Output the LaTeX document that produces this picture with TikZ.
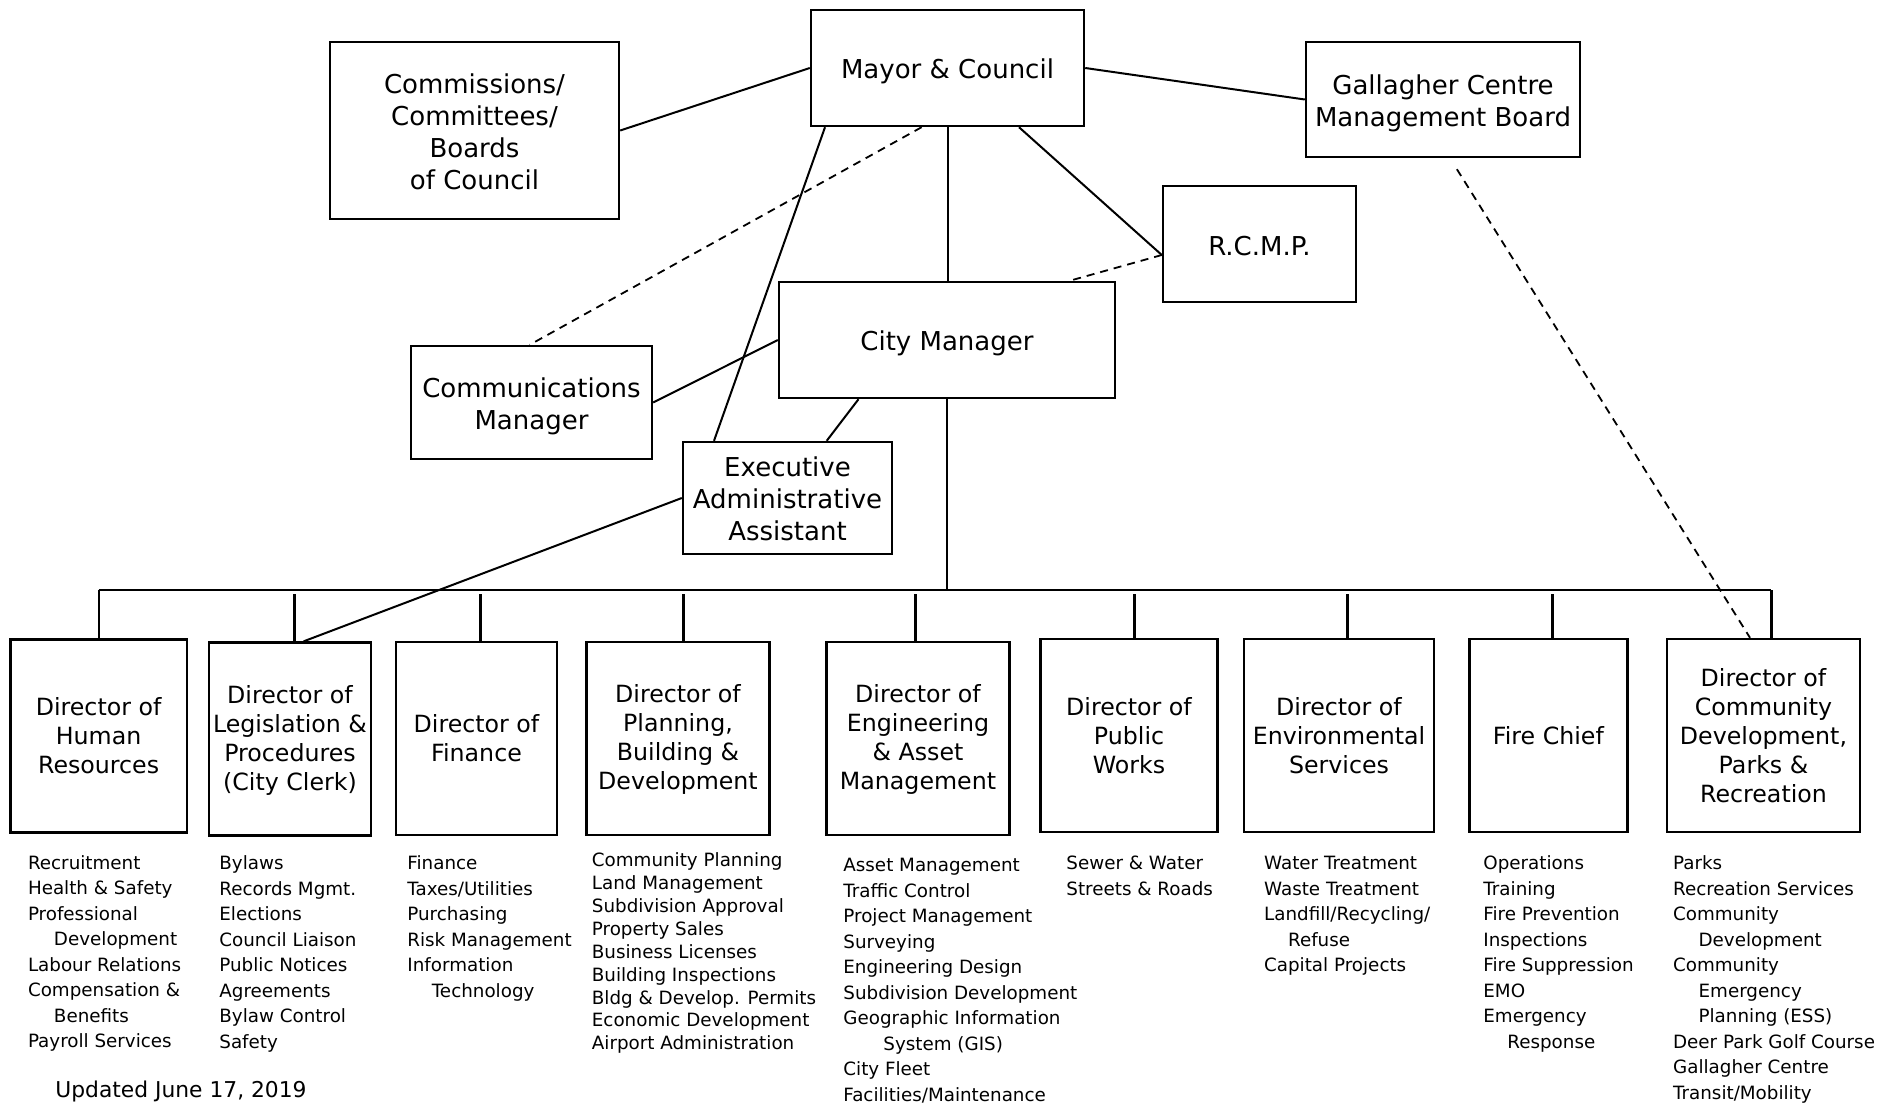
\documentclass[tikz,border=0pt]{standalone}
\usepackage{fontspec}
\setmainfont{DejaVu Sans}
\begin{document}
\begin{tikzpicture}[x=0.5pt,y=-0.5pt,
  topbox/.style={draw, line width=1.2pt, inner sep=1pt, align=center, font=\fontsize{13}{16}\selectfont},
  dirbox/.style={draw, line width=1.2pt, inner sep=1pt, align=center, minimum height=96.5pt, font=\fontsize{11.85}{14.5}\selectfont},
  conn/.style={line width=1pt},
  stub/.style={line width=1.5pt},
  dconn/.style={line width=0.9pt, dash pattern=on 4pt off 3pt},
  duties/.style={anchor=north west, inner sep=0pt, align=left, font=\fontsize{9.15}{12.75}\selectfont},
]
\fill[white] (0,0) rectangle (1904,1103);
\useasboundingbox (0,0) rectangle (1904,1103);

% top level boxes
\node[topbox, minimum width=144.5pt, minimum height=88.5pt] (comm) at (474.5,130.5) {\rule{0pt}{11pt}Commissions/\\Committees/\\Boards\\of Council};
\node[topbox, minimum width=136.5pt, minimum height=58pt] (mayor) at (947.5,68) {\rule{0pt}{13pt}Mayor \& Council};
\node[topbox, minimum width=137pt, minimum height=57.5pt] (gall) at (1443,99.5) {\rule{0pt}{14pt}Gallagher Centre\\Management Board};
\node[topbox, minimum width=96.5pt, minimum height=58pt] (rcmp) at (1259.5,244) {\rule{0pt}{12pt}R.C.M.P.};
\node[topbox, minimum width=168pt, minimum height=58pt] (cm) at (947,340) {\rule{0pt}{13pt}City Manager};
\node[topbox, minimum width=120.5pt, minimum height=56.5pt] (comms) at (531.5,402.5) {\rule{0pt}{14pt}Communications\\Manager};
\node[topbox, minimum width=104.5pt, minimum height=56pt] (exec) at (787.5,498) {\rule{0pt}{11pt}Executive\\Administrative\\Assistant};

% director boxes
\node[dirbox, minimum width=88.2pt] (hr) at (98.6,736) {Director of\\Human\\Resources};
\node[dirbox, minimum width=81pt] (leg) at (290,739) {\rule{0pt}{10pt}Director of\\Legislation \&\\Procedures\\(City Clerk)};
\node[dirbox, minimum width=80.5pt] (fin) at (476.5,738.5) {Director of\\Finance};
\node[dirbox, minimum width=91.5pt] (plan) at (678,738.5) {\rule{0pt}{10pt}Director of\\Planning,\\Building \&\\Development};
\node[dirbox, minimum width=91.5pt] (eng) at (918,738.5) {\rule{0pt}{10pt}Director of\\Engineering\\\& Asset\\Management};
\node[dirbox, minimum width=88.5pt] (pw) at (1129,735.5) {Director of\\Public\\Works};
\node[dirbox, minimum width=95pt] (env) at (1339,735.5) {Director of\\Environmental\\Services};
\node[dirbox, minimum width=79pt] (fire) at (1548.4,735.5) {Fire Chief};
\node[dirbox, minimum width=96.5pt] (comdev) at (1763.5,735.5) {Director of\\Community\\Development,\\Parks \&\\Recreation};

% top-level connectors
\draw[conn] (comm.east) -- (mayor.west);
\draw[conn] (mayor.east) -- (gall.west);
\draw[conn] (mayor.south) -- (mayor.south |- cm.north);
\draw[conn] ([xshift=35.75pt]mayor.south) -- ([yshift=-5.5pt]rcmp.west);
\draw[dconn] ([yshift=-5.5pt]rcmp.west) -- ([xshift=61.25pt]cm.north);
\draw[dconn] ([xshift=-12.95pt]mayor.south) -- ([xshift=-0.9pt]comms.north);
\draw[conn] ([xshift=-61.25pt]mayor.south) -- ([xshift=-36.75pt]exec.north);
\draw[conn] (cm.west) -- (comms.east);
\draw[conn] ([xshift=-44.25pt]cm.south) -- ([xshift=19.6pt]exec.north);
\draw[conn] (exec.west) -- ([xshift=6.85pt]leg.north);
\draw[dconn, shorten <=6.5pt] ([xshift=3.5pt]gall.south) -- ([xshift=-6.75pt]comdev.north);

% bus
\coordinate (t1) at (98.6,590);
\coordinate (t2) at (294.5,594);
\coordinate (t3) at (480,594);
\coordinate (t4) at (683.4,594);
\coordinate (t5) at (915.5,594);
\coordinate (t6) at (1134.4,594);
\coordinate (t7) at (1347,594);
\coordinate (t8) at (1552.7,594);
\coordinate (t9) at (1771,590);
\draw[conn] (cm.south) -- (cm.south |- t1);
\draw[conn] (t1) -- (t9);
\draw[conn] (t1) -- (t1 |- hr.north);
\draw[stub] (t2) -- (t2 |- leg.north);
\draw[stub] (t3) -- (t3 |- fin.north);
\draw[stub] (t4) -- (t4 |- plan.north);
\draw[stub] (t5) -- (t5 |- eng.north);
\draw[stub] (t6) -- (t6 |- pw.north);
\draw[stub] (t7) -- (t7 |- env.north);
\draw[stub] (t8) -- (t8 |- fire.north);
\draw[stub] (t9) -- (t9 |- comdev.north);

% duty lists
\node[duties] (lhr) at (27.6,851) {\strut Recruitment\\Health \& Safety\\Professional\\\hspace*{13pt}Development\\Labour Relations\\Compensation \&\\\hspace*{13pt}Benefits\\Payroll Services};
\node[duties] (lleg) at (219,851.5) {\strut Bylaws\\Records Mgmt.\\Elections\\Council Liaison\\Public Notices\\Agreements\\Bylaw Control\\Safety};
\node[duties] (lfin) at (407,851.5) {\strut Finance\\Taxes/Utilities\\Purchasing\\Risk Management\\Information\\\hspace*{12.25pt}Technology};
\node[duties, font=\fontsize{9.15}{11.45}\selectfont] (lplan) at (591.5,850.2) {\strut Community Planning\\Land Management\\Subdivision Approval\\Property Sales\\Business Licenses\\Building Inspections\\Bldg \& Develop. Permits\\Economic Development\\Airport Administration};
\node[duties] (leng) at (843,853.4) {\strut Asset Management\\Traffic Control\\Project Management\\Surveying\\Engineering Design\\Subdivision Development\\Geographic Information\\\hspace*{20pt}System (GIS)\\City Fleet\\Facilities/Maintenance};
\node[duties] (lpw) at (1066,851.5) {\strut Sewer \& Water\\Streets \& Roads};
\node[duties] (lenv) at (1263.7,851.5) {\strut Water Treatment\\Waste Treatment\\Landfill/Recycling/\\\hspace*{12pt}Refuse\\Capital Projects};
\node[duties] (lfire) at (1483,851.5) {\strut Operations\\Training\\Fire Prevention\\Inspections\\Fire Suppression\\EMO\\Emergency\\\hspace*{12pt}Response};
\node[duties] (lcom) at (1672.7,851.5) {\strut Parks\\Recreation Services\\Community\\\hspace*{12.75pt}Development\\Community\\\hspace*{12.75pt}Emergency\\\hspace*{12.75pt}Planning (ESS)\\Deer Park Golf Course\\Gallagher Centre\\Transit/Mobility};

\node[anchor=base west, inner sep=0pt, font=\fontsize{10.9}{13}\selectfont] (upd) at (55,1097) {Updated June 17, 2019};
\end{tikzpicture}
\end{document}
